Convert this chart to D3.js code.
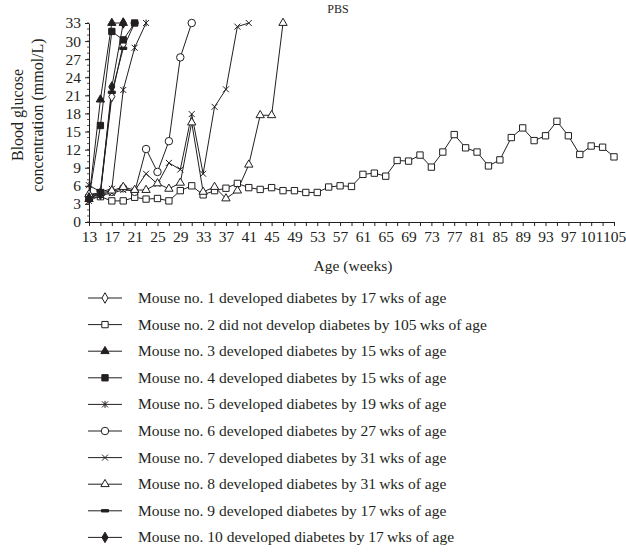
<!DOCTYPE html>
<html>
<head>
<meta charset="utf-8">
<script src="https://cdn.jsdelivr.net/npm/d3@7"></script>
<style>
  body { margin: 0; background: #fff; }
  text { font-family: 'Liberation Serif', 'DejaVu Serif', serif; fill: #231f20; }
</style>
</head>
<body>
<svg id="chart" width="626" height="552"></svg>
<script>
// weeks of age (x categories)
var weeks = [13, 15, 17, 19, 21, 23, 25, 27, 29, 31, 33, 35, 37, 39, 41, 43, 45, 47, 49, 51, 53, 55, 57, 59,
  61, 63, 65, 67, 69, 71, 73, 75, 77, 79, 81, 83, 85, 87, 89, 91, 93, 95, 97, 99, 101, 103, 105];
var yTicks = [0, 3, 6, 9, 12, 15, 18, 21, 24, 27, 30, 33];

// blood glucose per mouse, starting at week 13
var mouse1 = [4.4, 4.8, 20.8, 29.5];
var mouse2 = [4.0, 4.2, 3.5, 3.5, 4.1, 3.8, 3.9, 3.5, 5.2, 6.0, 4.5, 5.2, 5.6, 6.4, 5.7, 5.4, 5.7, 5.2, 5.2, 4.9,
  4.9, 5.8, 6.0, 5.9, 7.9, 8.1, 7.6, 10.2, 10.1, 11.1, 9.1, 11.6, 14.5, 12.3, 11.6, 9.3, 10.3, 14.0, 15.6,
  13.5, 14.3, 16.7, 14.3, 11.2, 12.6, 12.4, 10.8];
var mouse3 = [3.8, 20.3, 33, 33];
var mouse4 = [4.0, 16.0, 31.6, 30.2, 33];
var mouse5 = [6.1, 5.0, 5.5, 21.9, 28.9, 33];
var mouse6 = [4.2, 4.6, 5.0, 5.6, 5.0, 12.1, 8.3, 13.4, 27.3, 33];
var mouse7 = [3.5, 4.4, 4.8, 5.3, 5.2, 8.0, 6.3, 9.8, 8.7, 17.9, 8.0, 19.1, 22.0, 32.4, 33];
var mouse8 = [4.6, 4.8, 5.2, 5.8, 5.3, 5.3, 6.4, 5.5, 6.5, 16.5, 5.0, 5.8, 3.9, 5.2, 9.5, 17.7, 17.7, 33];
var mouse9 = [3.6, 5.2, 21.5, 28.8, 33];
var mouse10 = [4.0, 4.6, 22.4, 33];

var legendLabels = [
  'Mouse no. 1 developed diabetes by 17\u2009wks of age',
  'Mouse no. 2 did not develop diabetes by 105\u2009wks of age',
  'Mouse no. 3 developed diabetes by 15\u2009wks of age',
  'Mouse no. 4 developed diabetes by 15\u2009wks of age',
  'Mouse no. 5 developed diabetes by 19\u2009wks of age',
  'Mouse no. 6 developed diabetes by 27\u2009wks of age',
  'Mouse no. 7 developed diabetes by 31\u2009wks of age',
  'Mouse no. 8 developed diabetes by 31\u2009wks of age',
  'Mouse no. 9 developed diabetes by 17\u2009wks of age',
  'Mouse no. 10 developed diabetes by 17\u2009wks of age'
];

var series = [
  { values: mouse1, marker: 'diamond', fill: '#fff' },
  { values: mouse2, marker: 'square', fill: '#fff' },
  { values: mouse3, marker: 'triangle', fill: '#231f20' },
  { values: mouse4, marker: 'square', fill: '#231f20' },
  { values: mouse5, marker: 'star', fill: 'none' },
  { values: mouse6, marker: 'circle', fill: '#fff' },
  { values: mouse7, marker: 'cross', fill: 'none' },
  { values: mouse8, marker: 'triangle', fill: '#fff' },
  { values: mouse9, marker: 'dash', fill: '#231f20' },
  { values: mouse10, marker: 'diamond', fill: '#231f20' }
];

var ink = '#231f20';
var svg = d3.select('#chart');

var x = d3.scalePoint().domain(weeks).range([89, 614]);
var y = d3.scaleLinear().domain([0, 33]).range([222, 23]);

function markerPath(type) {
  if (type === 'diamond') return d3.symbol().type(d3.symbolDiamond).size(32)();
  if (type === 'square') return d3.symbol().type(d3.symbolSquare).size(40)();
  if (type === 'triangle') return d3.symbol().type(d3.symbolTriangle).size(30)();
  if (type === 'circle') return d3.symbol().type(d3.symbolCircle).size(44)();
  if (type === 'cross') return 'M-3,-3L3,3M-3,3L3,-3';
  if (type === 'star') return 'M-3,-3L3,3M-3,3L3,-3M0,-3.5L0,3.5';
  if (type === 'dash') return 'M-3.5,-1.2H3.5V1.2H-3.5Z';
  return '';
}

// y axis
var yAxis = svg.append('g').attr('transform', 'translate(89,0)');
yAxis.selectAll('line.minor').data(d3.range(0, 34)).enter().append('line')
  .attr('x1', -2).attr('x2', 0)
  .attr('y1', function (d) { return y(d); }).attr('y2', function (d) { return y(d); })
  .attr('stroke', ink).attr('stroke-width', 0.8);
yAxis.call(d3.axisLeft(y).tickValues(yTicks).tickSize(4).tickPadding(4).tickSizeOuter(0));

// x axis
var xAxis = svg.append('g').attr('transform', 'translate(0,222)')
  .call(d3.axisBottom(x).tickSize(4).tickPadding(5).tickSizeOuter(0)
    .tickFormat(function (d, i) { return i % 2 === 0 ? d : ''; }));

svg.selectAll('.domain').attr('stroke', ink);
svg.selectAll('.tick line').attr('stroke', ink);
svg.selectAll('.tick text').style('font-size', '15.5px').style('font-family', "'Liberation Serif', serif").attr('fill', ink);

// lines and markers
var line = d3.line()
  .x(function (d, i) { return x(weeks[i]); })
  .y(function (d) { return y(d); });

series.forEach(function (s) {
  svg.append('path')
    .attr('d', line(s.values))
    .attr('fill', 'none')
    .attr('stroke', ink)
    .attr('stroke-width', 1);
});

series.forEach(function (s) {
  svg.append('g').selectAll('path').data(s.values).enter().append('path')
    .attr('transform', function (d, i) { return 'translate(' + x(weeks[i]) + ',' + y(d) + ')'; })
    .attr('d', markerPath(s.marker))
    .attr('fill', s.fill)
    .attr('stroke', ink)
    .attr('stroke-width', 1);
});

// titles
svg.append('text').attr('x', 338).attr('y', 13).attr('text-anchor', 'middle')
  .style('font-size', '12px').text('PBS');

svg.append('text').attr('transform', 'translate(23,115) rotate(-90)').attr('text-anchor', 'middle')
  .style('font-size', '16px').text('Blood glucose');
svg.append('text').attr('transform', 'translate(43,115) rotate(-90)').attr('text-anchor', 'middle')
  .style('font-size', '16px').text('concentration (mmol/L)');

svg.append('text').attr('x', 353).attr('y', 271).attr('text-anchor', 'middle')
  .style('font-size', '15.5px').text('Age (weeks)');

// legend
var legend = svg.append('g').selectAll('g').data(series).enter().append('g')
  .attr('transform', function (d, i) { return 'translate(0,' + (298 + i * 26.6) + ')'; });

legend.append('line').attr('x1', 88).attr('x2', 122).attr('y1', 0).attr('y2', 0)
  .attr('stroke', ink).attr('stroke-width', 1);
legend.append('path')
  .attr('transform', 'translate(105,0)')
  .attr('d', function (d) { return markerPath(d.marker); })
  .attr('fill', function (d) { return d.fill; })
  .attr('stroke', ink).attr('stroke-width', 1);
legend.append('text').attr('x', 138).attr('y', 5)
  .style('font-size', '15.5px')
  .text(function (d, i) { return legendLabels[i]; });
</script>
</body>
</html>
